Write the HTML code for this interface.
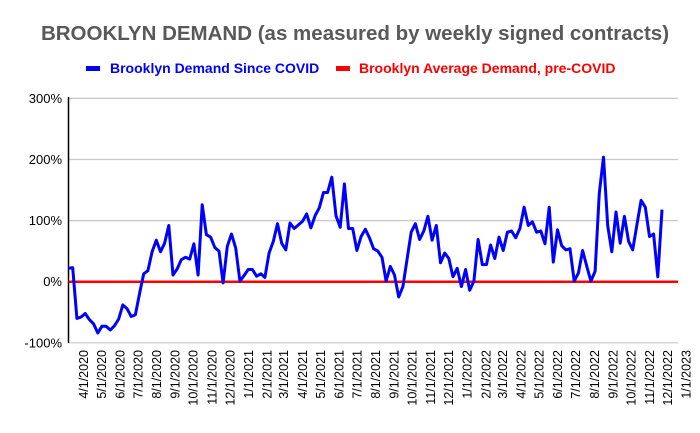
<!DOCTYPE html>
<html><head><meta charset="utf-8"><style>
body{margin:0;background:#fff;}
svg{display:block;font-family:"Liberation Sans",Arial,sans-serif;}
</style></head><body>
<svg id="chart" width="700" height="433" viewBox="0 0 700 433">
<text x="355" y="40" text-anchor="middle" font-size="20.5" font-weight="bold" fill="#595959">BROOKLYN DEMAND (as measured by weekly signed contracts)</text>
<g>
<g>
<rect x="86" y="66" width="14" height="5" fill="#0000ff"/>
<text x="110" y="73" font-size="14" font-weight="bold" fill="#0000ff">Brooklyn Demand Since COVID</text></g>
<g>
<rect x="336" y="66" width="14" height="5" fill="#ff0000"/>
<text x="359" y="73" font-size="14" font-weight="bold" fill="#ff0000">Brooklyn Average Demand, pre-COVID</text></g>
</g>
<g id="grid"></g><g id="yticks"></g><g id="xticks"></g>
<line x1="68.5" y1="97" x2="68.5" y2="343" stroke="#000" stroke-width="1.5"/>
<g id="series"></g>
</svg>
<script>
const yTicks=[300,200,100,0,-100];
const xLabels=["4/1/2020","5/1/2020","6/1/2020","7/1/2020","8/1/2020","9/1/2020","10/1/2020","11/1/2020","12/1/2020","1/1/2021","2/1/2021","3/1/2021","4/1/2021","5/1/2021","6/1/2021","7/1/2021","8/1/2021","9/1/2021","10/1/2021","11/1/2021","12/1/2021","1/1/2022","2/1/2022","3/1/2022","4/1/2022","5/1/2022","6/1/2022","7/1/2022","8/1/2022","9/1/2022","10/1/2022","11/1/2022","12/1/2022","1/1/2023"];
const demand=[22,23,-60,-58,-52,-62,-69,-84,-73,-73,-79,-72,-61,-38,-44,-57,-54,-19,13,18,49,68,49,63,92,11,21,36,40,37,62,11,126,77,73,56,50,-2,58,78,55,1,10,20,20,9,13,7,47,66,95,63,52,96,87,93,99,111,88,108,121,146,146,171,108,89,160,87,87,51,74,86,72,54,50,40,1,25,11,-25,-8,36,81,95,69,83,107,68,92,31,47,38,8,22,-8,20,-14,1,69,28,28,60,38,73,51,81,83,72,87,122,92,98,81,83,62,122,32,85,59,52,54,1,14,51,25,1,17,145,204,92,49,114,63,107,66,52,93,133,122,74,78,8,118];
const baseline=[0,0];
const NS="http://www.w3.org/2000/svg";
const y=v=>281.7-v*0.611;
const xDate=s=>{const p=s.split('/');const d=new Date(Date.UTC(+p[2],+p[0]-1,+p[1]));return 83.5+(d-Date.UTC(2020,3,1))/864e5*0.5995;};
const xi=i=>68.5+i*(662-68.5)/(demand.length-1);
function mk(t,a,p){const e=document.createElementNS(NS,t);for(const k in a)e.setAttribute(k,a[k]);p.appendChild(e);return e;}
const grid=document.getElementById('grid'),yt=document.getElementById('yticks'),xt=document.getElementById('xticks'),se=document.getElementById('series');
yTicks.forEach(v=>{
 if(v!==0){const l=mk('line',{x1:68.5,x2:678,y1:y(v),y2:y(v),stroke:'#c8c8c8','stroke-width':1.2},grid);
 
 }
 const t=mk('text',{x:62,y:y(v)+4.5,'text-anchor':'end','font-size':13,fill:'#000'},yt);t.textContent=v+'%';
 
 
});
xLabels.forEach(s=>{const x=xDate(s)+4.5;
 const t=mk('text',{x:x,y:350,'text-anchor':'end','font-size':12.5,fill:'#000',transform:`rotate(-90 ${x} 350)`},xt);t.textContent=s;
 
 
});
const r=mk('line',{x1:68.5,x2:678,y1:y(baseline[0]),y2:y(baseline[1]),stroke:'#ff0000','stroke-width':2.5},se);


const pl=mk('polyline',{points:demand.map((v,i)=>xi(i).toFixed(1)+','+y(v).toFixed(1)).join(' '),fill:'none',stroke:'#0000ff','stroke-width':3,'stroke-linejoin':'round'},se);


</script>
</body></html>
